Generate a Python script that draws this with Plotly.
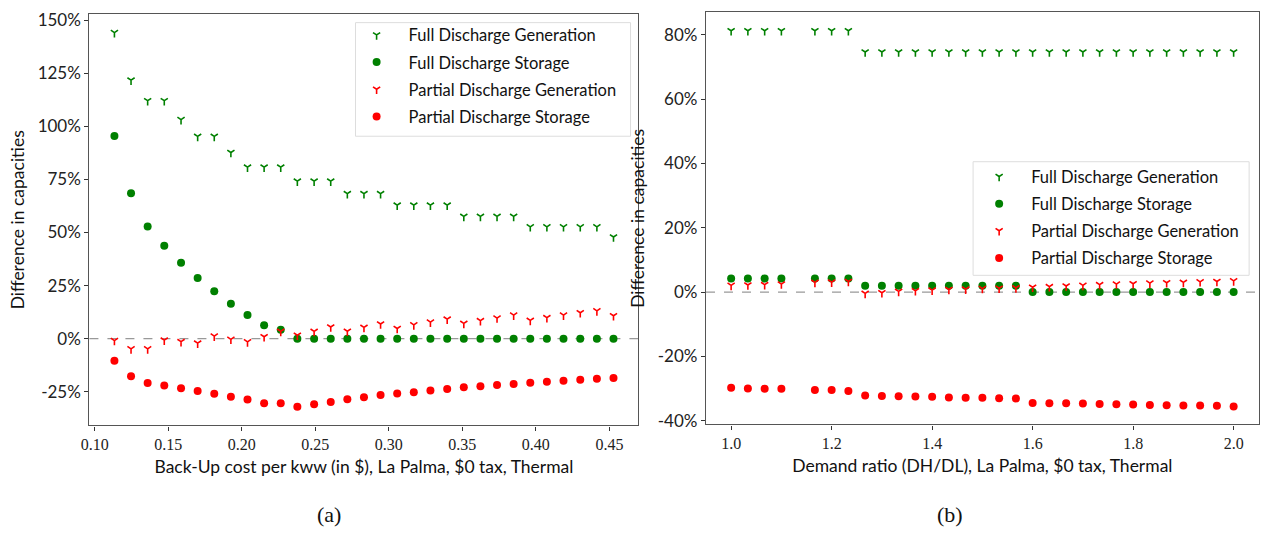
import plotly.graph_objects as go

# ---- Panel (a): back-up cost sweep ----
backup_cost = [0.1134, 0.1247, 0.1360, 0.1473, 0.1587, 0.1700, 0.1813, 0.1926,
               0.2039, 0.2152, 0.2265, 0.2378, 0.2492, 0.2605, 0.2718, 0.2831,
               0.2944, 0.3057, 0.3170, 0.3283, 0.3397, 0.3510, 0.3623, 0.3736,
               0.3849, 0.3962, 0.4075, 0.4188, 0.4302, 0.4415, 0.4528]
a_full_gen = [144.2, 121.8, 112.1, 112.1, 103.2, 95.3, 95.3, 87.7, 80.8, 80.8,
              80.8, 74.2, 74.2, 74.2, 68.3, 68.3, 68.3, 62.9, 62.9, 62.9, 62.9,
              57.6, 57.6, 57.6, 57.6, 52.7, 52.7, 52.7, 52.7, 52.7, 47.9]
a_full_sto = [95.5, 68.5, 52.8, 43.8, 35.8, 28.6, 22.3, 16.5, 11.2, 6.3, 4.2,
              0, 0, 0, 0, 0, 0, 0, 0, 0, 0, 0, 0, 0, 0, 0, 0, 0, 0, 0, 0]
a_part_gen = [-0.9, -4.8, -4.8, -0.7, -1.4, -2.1, 1.2, -0.3, -1.5, 0.9, 3.4,
              1.6, 3.4, 5.5, 3.5, 5.3, 6.9, 4.8, 6.5, 7.8, 9.2, 7.2, 8.5, 9.7,
              11.1, 8.6, 9.9, 11.1, 12.2, 13.1, 10.8]
a_part_sto = [-10.4, -17.7, -20.9, -22.1, -23.4, -24.6, -26.0, -27.4, -28.7,
              -30.4, -30.4, -32.1, -30.9, -29.8, -28.6, -27.6, -26.5, -25.8,
              -25.2, -24.4, -23.7, -22.9, -22.4, -21.8, -21.4, -20.8, -20.3,
              -19.8, -19.4, -18.9, -18.5]

# ---- Panel (b): demand ratio sweep ----
demand_ratio = [1.0, 1.0333, 1.0667, 1.1, 1.1667, 1.2, 1.2333, 1.2667, 1.3,
                1.3333, 1.3667, 1.4, 1.4333, 1.4667, 1.5, 1.5333, 1.5667, 1.6,
                1.6333, 1.6667, 1.7, 1.7333, 1.7667, 1.8, 1.8333, 1.8667, 1.9,
                1.9333, 1.9667, 2.0]
b_full_gen = [81.3] * 7 + [74.7] * 23
b_full_sto = [4.2] * 7 + [2.0] * 10 + [0.0] * 13
b_part_gen = [2.1, 2.2, 2.3, 2.5, 3.0, 3.1, 3.3, -0.4, -0.2, 0.2, 0.4, 0.6,
              0.8, 0.9, 1.1, 1.2, 1.3, 1.5, 1.7, 1.9, 2.1, 2.3, 2.5, 2.6, 2.8,
              2.9, 3.0, 3.2, 3.3, 3.5]
b_part_sto = [-29.8, -30.0, -30.1, -30.1, -30.5, -30.5, -30.8, -32.2, -32.3,
              -32.4, -32.5, -32.6, -32.8, -32.9, -32.9, -33.0, -33.1, -34.5,
              -34.6, -34.6, -34.7, -34.8, -34.9, -35.0, -35.1, -35.2, -35.3,
              -35.3, -35.4, -35.6]

series_names = ["Full Discharge Generation", "Full Discharge Storage",
                "Partial Discharge Generation", "Partial Discharge Storage"]
series_colors = ["green", "green", "red", "red"]
series_symbols = ["y-down", "circle", "y-down", "circle"]

a_xticks = [0.10, 0.15, 0.20, 0.25, 0.30, 0.35, 0.40, 0.45]
a_yticks = [-25, 0, 25, 50, 75, 100, 125, 150]
b_xticks = [1.0, 1.2, 1.4, 1.6, 1.8, 2.0]
b_yticks = [-40, -20, 0, 20, 40, 60, 80]

W, H = 1267, 535
SANS = "Lato"
SERIF = "Liberation Serif"


def px_x(p):
    return p / W


def px_y(p):
    return 1 - p / H


fig = go.Figure()

panels = [
    (backup_cost, [a_full_gen, a_full_sto, a_part_gen, a_part_sto], "x", "y", "legend"),
    (demand_ratio, [b_full_gen, b_full_sto, b_part_gen, b_part_sto], "x2", "y2", "legend2"),
]
for xs, ys_list, xa, ya, leg in panels:
    for name, ys, col, sym in zip(series_names, ys_list, series_colors, series_symbols):
        if sym == "circle":
            marker = dict(symbol="circle", size=8, color=col, line=dict(width=0))
        else:
            marker = dict(symbol="y-down", size=6, color=col,
                          line=dict(width=1.6, color=col))
        fig.add_trace(go.Scatter(
            x=xs, y=ys, mode="markers", name=name, marker=marker,
            xaxis=xa, yaxis=ya, legend=leg, legendgroup=leg + name,
        ))

axis_common = dict(showgrid=False, zeroline=False, showline=True, mirror=True,
                   linecolor="#555555", linewidth=1.3, ticks="outside",
                   ticklen=4, tickwidth=1, tickcolor="#333333")
title_font = dict(family=SANS, size=17.5, color="#111")
ytick_font = dict(family=SANS, size=17, color="#222")
xtick_font = dict(family=SERIF, size=16, color="#222")
legend_font = dict(family=SANS, size=16.5, color="#111")

fig.update_layout(
    width=W, height=H, autosize=False,
    margin=dict(l=0, r=0, t=0, b=0),
    paper_bgcolor="white", plot_bgcolor="white",
    showlegend=True,
    xaxis=dict(axis_common, domain=[px_x(81), px_x(634)], range=[0.0964, 0.4698],
               anchor="y", tickvals=a_xticks, ticktext=[f"{v:.2f}" for v in a_xticks],
               tickfont=xtick_font,
               title=dict(text="Back-Up cost per kww (in $), La Palma, $0 tax, Thermal",
                          font=title_font, standoff=8)),
    yaxis=dict(axis_common, domain=[px_y(429.3), px_y(9.3)], range=[-40.9, 152.9],
               anchor="x", tickvals=a_yticks, ticktext=[f"{v}%" for v in a_yticks],
               tickfont=ytick_font,
               title=dict(text="Difference in capacities", font=title_font, standoff=8)),
    xaxis2=dict(axis_common, domain=[px_x(702), px_x(1258.7)], range=[0.95, 2.05],
                anchor="y2", tickvals=b_xticks, ticktext=[f"{v:.1f}" for v in b_xticks],
                tickfont=xtick_font,
                title=dict(text="Demand ratio (DH/DL), La Palma, $0 tax, Thermal",
                           font=title_font, standoff=8)),
    yaxis2=dict(axis_common, domain=[px_y(428.3), px_y(7.3)], range=[-41.2, 87.1],
                anchor="x2", tickvals=b_yticks, ticktext=[f"{v}%" for v in b_yticks],
                tickfont=ytick_font,
                title=dict(text="Difference in capacities", font=title_font, standoff=8)),
    legend=dict(x=px_x(338), y=px_y(13), xanchor="left", yanchor="top",
                bgcolor="rgba(0,0,0,0)", borderwidth=0, itemwidth=54,
                font=legend_font, tracegroupgap=2.7),
    legend2=dict(x=px_x(965), y=px_y(157.5), xanchor="left", yanchor="top",
                 bgcolor="rgba(0,0,0,0)", borderwidth=0, itemwidth=54,
                 font=legend_font, tracegroupgap=2.7),
)

# legend frames
for x0, x1, y0, y1 in [(349, 626, 18, 134), (971, 1249, 160, 276)]:
    fig.add_shape(type="rect", xref="paper", yref="paper",
                  x0=px_x(x0), x1=px_x(x1), y0=px_y(y1), y1=px_y(y0),
                  line=dict(color="#dddddd", width=1),
                  fillcolor="rgba(255,255,255,0.8)", layer="above")

# dashed reference line at zero in both panels
for xa, ya in [("x", "y"), ("x2", "y2")]:
    fig.add_shape(type="line", xref=f"{xa} domain", yref=ya, x0=0, x1=1, y0=0, y1=0,
                  line=dict(color="#999999", width=1.2, dash="dash"), layer="below")

# panel captions
for label, cx in [("(a)", 322), ("(b)", 948)]:
    fig.add_annotation(text=label, xref="paper", yref="paper", x=px_x(cx), y=px_y(520),
                       xanchor="center", yanchor="middle", showarrow=False,
                       font=dict(family=SERIF, size=22, color="#111"))

fig.write_html("out.html")
